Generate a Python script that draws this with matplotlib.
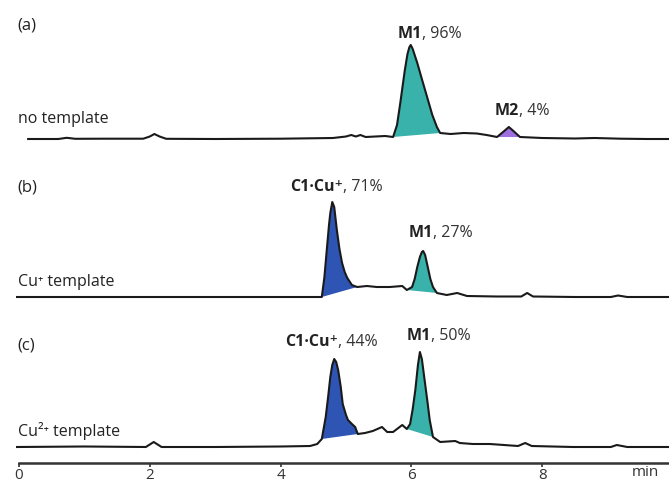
import numpy as np
import matplotlib
matplotlib.use("Agg")
from matplotlib import pyplot as plt

plt.rcParams['font.family'] = ['Open Sans', 'DejaVu Sans']

t_a = [0.14, 0.6, 0.73, 0.86, 1.3, 1.9, 2.0, 2.07, 2.15, 2.25, 3.0, 4.0, 4.8, 5.0, 5.08,
       5.15, 5.22, 5.3, 5.45, 5.6, 5.72, 5.78, 5.83, 5.87, 5.90, 5.94, 5.97, 5.99, 6.02,
       6.05, 6.09, 6.16, 6.24, 6.32, 6.39, 6.44, 6.6, 6.8, 7.0, 7.15, 7.31, 7.42, 7.49,
       7.56, 7.66, 8.0, 8.5, 8.8, 9.2, 9.6, 9.94]
h_a = [0, 0, 1.2, 0.2, 0.3, 0.3, 2.5, 5, 2.5, 0.2, 0, 0.3, 1, 2.5, 4,
       2.5, 4, 2, 2.5, 3, 2, 14, 36, 55, 69, 85, 92, 94, 90,
       84, 76, 60, 42, 24, 12, 6, 5, 6, 5.5, 4, 2, 8, 12,
       8, 2, 1, 0.5, 1, 0.3, 0, 0]

t_b = [-0.03, 1.0, 2.0, 3.0, 4.0, 4.5, 4.63, 4.67, 4.71, 4.74, 4.76, 4.79, 4.82, 4.86,
       4.90, 4.94, 4.98, 5.02, 5.09, 5.17, 5.32, 5.47, 5.67, 5.86, 5.93, 6.01, 6.05, 6.09,
       6.13, 6.16, 6.18, 6.21, 6.25, 6.29, 6.33, 6.39, 6.54, 6.70, 6.85, 7.3, 7.68, 7.77,
       7.86, 8.5, 9.05, 9.16, 9.3, 9.94]
h_b = [0, 0, 0, 0, 0, 0, 0, 20, 50, 72, 84, 95, 90, 67,
       48, 34, 25, 19, 12, 10, 11, 10, 10, 11, 7, 10, 18, 30,
       40, 45, 46, 42, 30, 18, 10, 4, 2, 4, 1, 0.5, 0.5, 4,
       0.5, 0, 0, 1.5, 0, 0]

t_c = [-0.03, 1.0, 1.94, 2.06, 2.18, 3.0, 4.0, 4.45, 4.56, 4.63, 4.69, 4.73, 4.76, 4.79,
       4.82, 4.85, 4.88, 4.92, 4.95, 5.00, 5.03, 5.09, 5.14, 5.18, 5.29, 5.41, 5.55, 5.63,
       5.72, 5.86, 5.93, 5.98, 6.02, 6.06, 6.10, 6.13, 6.16, 6.21, 6.25, 6.28, 6.33, 6.44,
       6.67, 6.74, 6.94, 7.20, 7.63, 7.74, 7.84, 8.47, 9.05, 9.14, 9.30, 9.94]
h_c = [0, 0.5, 0, 5, 0, 0, 0.5, 1, 3, 8, 30, 52, 70, 82,
       88, 85, 77, 60, 43, 32, 27, 23, 20, 13, 14, 16, 20, 15,
       15, 22, 18, 23, 38, 57, 82, 95, 88, 63, 43, 27, 10, 5,
       6, 4, 3, 3, 1, 4, 1, 0, 0, 2, 0, 0]

# integrated peaks: (start, end, colour)
teal = '#38b2aa'
blue = '#2e55b4'
purple = '#a070e0'
peaks_a = [(5.72, 6.44, teal), (7.31, 7.66, purple)]
peaks_b = [(4.63, 5.17, blue), (5.93, 6.39, teal)]
peaks_c = [(4.63, 5.18, blue), (5.93, 6.33, teal)]

# peak labels: bold name, percentage, left x (min), height
labels_a = [('M1', ', 96%', 5.795, 105), ('M2', ', 4%', 7.28, 28)]
labels_b = [('C1·Cu⁺', ', 71%', 4.14, 110), ('M1', ', 27%', 5.95, 64)]
labels_c = [('C1·Cu⁺', ', 44%', 4.07, 105), ('M1', ', 50%', 5.93, 111)]

names = ['(a)', '(b)', '(c)']
name_y = [114, 110, 101]
templates = ['no template', 'Cu⁺ template', 'Cu²⁺ template']
template_y = [20, 15.5, 16]

W, H = 669, 483
fig = plt.figure(figsize=(W / 100, H / 100), dpi=100)

# rows (top, bottom, baseline) of each panel in the image
rows = [(0, 160, 139), (160, 315, 297), (315, 463, 447)]
xlim = (-19 / 65.4, (W - 19) / 65.4)

traces = [(t_a, h_a, peaks_a, labels_a), (t_b, h_b, peaks_b, labels_b),
          (t_c, h_c, peaks_c, labels_c)]

for i, ((t, h, peaks, labels), (top, bot, base)) in enumerate(zip(traces, rows)):
    ax = fig.add_axes([0, 1 - bot / H, 1, (bot - top) / H])
    ax.set_xlim(*xlim)
    ax.set_ylim(-(bot - base), base - top)
    t = np.array(t)
    h = np.array(h)
    for start, end, col in peaks:
        m = (t >= start) & (t <= end)
        ax.fill(t[m], h[m], color=col, lw=0)
    ax.plot(t, h, color='#1a1a1a', lw=1.5, solid_joinstyle='round')

    ax.text(-0.03, name_y[i], names[i], fontsize=12, color='#222222',
            va='center', ha='left')
    ax.text(-0.01, template_y[i], templates[i], fontsize=11.5,
            color='#222222', va='center', ha='left')
    for bold, rest, x, y in labels:
        b = ax.text(x, y, bold, fontsize=11.5, fontweight='bold', color='#222222',
                    va='center', ha='left')
        ax.annotate(rest, xy=(1, 0), xycoords=b, fontsize=11.5, color='#333333',
                    va='bottom', ha='left')

    for s in ['top', 'right', 'left']:
        ax.spines[s].set_visible(False)
    ax.set_yticks([])
    if i < 2:
        ax.spines['bottom'].set_visible(False)
        ax.set_xticks([])
    else:
        ax.spines['bottom'].set_bounds(0, xlim[1])
        ax.spines['bottom'].set_linewidth(1.8)
        ax.spines['bottom'].set_color('#333333')
        ax.set_xticks([0, 2, 4, 6, 8])
        ax.tick_params(axis='x', direction='out', length=3, width=1.2, pad=0.5,
                       labelsize=11, colors='#333333')
        ax.text(9.57, -(bot - base) - 2.5, 'min', fontsize=11, color='#333333',
                ha='center', va='top')

fig.savefig('out.png', dpi=100)
